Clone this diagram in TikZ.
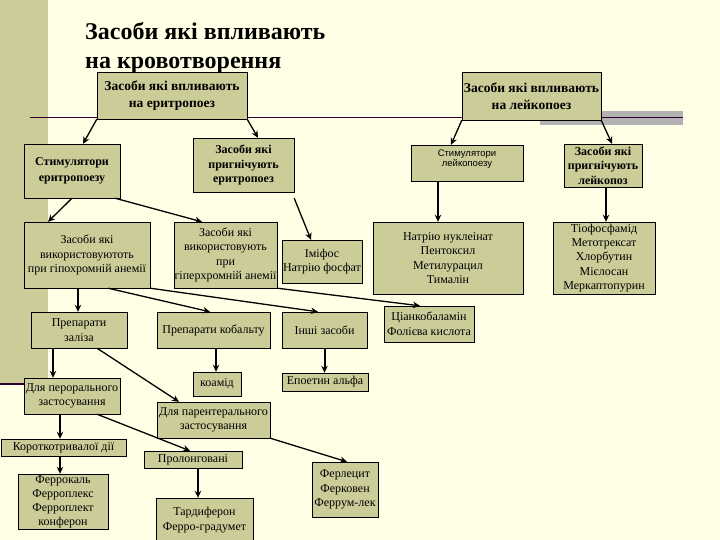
\documentclass[tikz,border=0pt]{standalone}
\usepackage{fontspec}
\setmainfont{Liberation Serif}
\newfontfamily\leukofont{Liberation Sans}
\usepackage{tikz}
\usetikzlibrary{shapes,arrows,arrows.meta,positioning,calc}
\definecolor{slidebg}{RGB}{255,255,229}
\definecolor{boxfill}{RGB}{204,204,153}
\definecolor{barshadow}{RGB}{178,178,178}
\definecolor{ruleline}{RGB}{51,0,51}

\begin{document}
\begin{tikzpicture}[x=1pt,y=-1pt,>={Stealth[length=7pt,width=6.5pt]},
	main node/.style={draw, fill=boxfill, rectangle, inner sep=1pt, align=center, font=\fontsize{12}{14.5}\selectfont},
	bold node/.style={main node, font=\bfseries\fontsize{12}{14.5}\selectfont},
	wh/.style 2 args={minimum width=#1pt, minimum height=#2pt},
	diag/.style={->, line width=1.3pt},
	vert/.style={->, line width=2pt}]
				% slide background
				\useasboundingbox[fill=slidebg] (0,0) rectangle (720,540);
				\fill[boxfill] (0,0) rectangle (48,383);
				\fill[barshadow] (540,111) rectangle (683,125);
				\draw[ruleline, line width=1.5pt] (30,117.7) -- (683,117.7);
				\draw[ruleline, line width=2.5pt] (0,384) -- (48,384);
				
				\node[anchor=north west, align=left, inner sep=0pt, font=\bfseries\fontsize{24}{29}\selectfont] (title) at (85,22) {Засоби які впливають\\на кровотворення};
				
				\node[bold node, wh={150}{47}, font=\bfseries\fontsize{13.5}{17}\selectfont] (ery) at (172,95.5) {Засоби які впливають\\на еритропоез};
				\node[bold node, wh={139}{48}, inner sep=0pt, font=\bfseries\fontsize{13.5}{17}\selectfont] (leu) at (531.5,96) {Засоби які впливають\\на лейкопоез};
				
				\node[bold node, wh={96}{54}, font=\bfseries\fontsize{12}{16}\selectfont] (stimery) at (72,171) {Стимулятори\\еритропоезу};
				\node[bold node, wh={101}{54}] (inhery) at (243.5,165) {Засоби які\\пригнічують\\еритропоез};
				\node[main node, wh={112}{36}, font=\leukofont\fontsize{9.5}{10}\selectfont] (stimleu) at (467,163) {Стимулятори\\лейкопоезу\\\mbox{}};
				\node[bold node, wh={78}{43}, inner sep=0.5pt] (inhleu) at (603,165.5) {Засоби які\\пригнічують\\лейкопоз};
				
				\node[main node, wh={126}{66}] (hypo) at (87,255) {Засоби які\\використовуютоть\\при гіпохромній анемії};
				\node[main node, wh={103}{66}, inner sep=0.5pt] (hyper) at (225.5,255) {Засоби які\\використовують\\при\\гіперхромній анемії};
				\node[main node, wh={78}{43}] (imifos) at (322,261.5) {Іміфос\\Натрію фосфат};
				\node[main node, wh={150}{72}] (leulist) at (448,258) {Натрію нуклеінат\\Пентоксил\\Метилурацил\\Тималін};
				\node[main node, wh={102}{72}, inner sep=0.5pt, font=\fontsize{12}{14.2}\selectfont] (inhlist) at (604,258) {Тіофосфамід\\Метотрексат\\Хлорбутин\\Мієлосан\\Меркаптопурин};
				
				\node[main node, wh={96}{36}] (iron) at (79,330) {Препарати\\заліза};
				\node[main node, wh={113}{36}] (cobalt) at (213.5,330) {Препарати кобальту};
				\node[main node, wh={85}{36}] (other) at (324.5,330) {Інші засоби};
				\node[main node, wh={90}{36}] (b12) at (429,324) {Ціанкобаламін\\Фолієва кислота};
				
				\node[main node, wh={48}{24}] (coamid) at (217,384) {коамід};
				\node[main node, wh={86}{18}] (epo) at (325,382) {Епоетин альфа};
				\node[main node, wh={96}{36}] (oral) at (72,396) {Для перорального\\застосування};
				\node[main node, wh={113}{36}] (parent) at (213.5,420) {Для парентерального\\застосування};
				
				\node[main node, wh={125}{17}, inner sep=0.5pt] (short) at (63.5,447.5) {Короткотривалої дії};
				\node[main node, wh={98}{17}, inner sep=0.5pt] (prolong) at (193,459.5) {Пролонговані};
				\node[main node, wh={90}{55}, inner sep=0.5pt, font=\fontsize{12}{14}\selectfont] (ferro) at (63,501.5) {Феррокаль\\Ферроплекс\\Ферроплект\\конферон};
				\node[main node, wh={97}{44}] (tardi) at (204.5,520) {Тардиферон\\Ферро-градумет};
				\node[main node, wh={66}{55}] (ferlec) at (345,489.5) {Ферлецит\\Ферковен\\Феррум-лек};
				
				\coordinate (stimleu out) at ([xshift=-29pt]stimleu.south);
				\coordinate (inhleu out) at ([xshift=3pt]inhleu.south);
				\coordinate (hypo out) at ([xshift=-9pt]hypo.south);
				\coordinate (iron out) at ([xshift=-26pt]iron.south);
				\coordinate (cobalt out) at ([xshift=2.5pt]cobalt.south);
				\coordinate (oral out) at ([xshift=-12pt]oral.south);
				\coordinate (short out) at ([xshift=-3.5pt]short.south);
				\coordinate (prolong out) at ([xshift=5pt]prolong.south);
				
				\path[diag]
				(ery.south west) edge ([xshift=11pt]stimery.north)
				(ery.south east) edge ([xshift=14.5pt]inhery.north)
				(leu.south west) edge ([xshift=-16pt]stimleu.north)
				(leu.south east) edge ([xshift=9pt]inhleu.north)
				
				(stimery.south) edge ([xshift=-39pt]hypo.north)
				([xshift=43pt]stimery.south) edge ([xshift=-23.5pt]hyper.north)
				([yshift=-6pt]inhery.south east) edge ([xshift=-11pt]imifos.north)
				
				([xshift=21pt]hypo.south) edge ([xshift=-3.5pt]cobalt.north)
				(hypo.south east) edge ([xshift=-6.5pt]other.north)
				(hyper.south east) edge ([xshift=-9pt]b12.north)
				
				([xshift=18pt]iron.south) edge ([xshift=-34.5pt]parent.north)
				([xshift=25pt]oral.south) edge ([xshift=-3pt]prolong.north)
				(parent.south east) edge ([xshift=2pt]ferlec.north);
				
				\path[vert]
				(stimleu out) edge (stimleu out |- leulist.north)
				(inhleu out) edge (inhleu out |- inhlist.north)
				(hypo out) edge (hypo out |- iron.north)
				(iron out) edge (iron out |- oral.north)
				(cobalt out) edge (cobalt out |- coamid.north)
				(other.south) edge (other.south |- epo.north)
				(oral out) edge (oral out |- short.north)
				(short out) edge (short out |- ferro.north)
				(prolong out) edge (prolong out |- tardi.north);
				
\end{tikzpicture}
\end{document}
